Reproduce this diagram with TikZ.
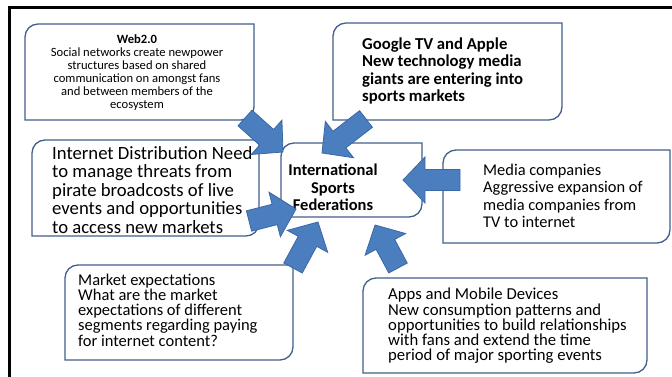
\documentclass[tikz,border=0pt]{standalone}
\usepackage{fontspec}
\setmainfont{Carlito}
\usetikzlibrary{calc,fit}

\definecolor{arrowblue}{HTML}{4A7EBF}
\definecolor{arrowedge}{HTML}{3B67A3}
\definecolor{boxedge}{HTML}{41608C}

% outline of a box, only top left and bottom right corners are rounded
\newcommand{\diagframe}[1]{%
  \draw[frameline] (#1.north east) -- (#1.north west) -- (#1.south west)
                   (#1.south west) -- (#1.south east) -- (#1.north east);}

\begin{document}
\begin{tikzpicture}[x=1pt,y=-1pt]
	\tikzstyle{boxarea}=[inner sep=0pt,outer sep=0pt]
	\tikzstyle{frameline}=[draw=boxedge,line width=1.3pt,rounded corners=13pt,line cap=rect]
	\tikzstyle{txt}=[inner sep=0pt,align=left,anchor=west,text=black]
	\tikzstyle{blockarrow}=[fill=arrowblue,draw=arrowedge,line width=0.8pt,
	  to path={let \p1=(\tikztostart),\p2=(\tikztotarget),
	    \n1={atan2(\y2-\y1,\x2-\x1)},\n2={veclen(\x2-\x1,\y2-\y1)-22} in
	    ($(\p1)+(\n1+90:10.5pt)$) -- ++(\n1:\n2) -- ++(\n1+90:12.5pt) -- (\p2)
	    -- ($(\p2)+(\n1+180:22pt)+(\n1-90:23pt)$) -- ++(\n1+90:12.5pt)
	    -- ($(\p1)+(\n1-90:10.5pt)$) -- cycle}]
	\useasboundingbox (0,0) rectangle (672,377);

	% boxes
	\node [boxarea,fit={(25,24) (254,120)}] (webbox) {};
	\node [boxarea,fit={(32,140) (259,236)}] (netbox) {};
	\node [boxarea,fit={(65,265) (293,360)}] (marketbox) {};
	\node [boxarea,fit={(333,23) (562,120)}] (googlebox) {};
	\node [boxarea,fit={(443,150) (670,243)}] (mediabox) {};
	\node [boxarea,fit={(363,278) (647,373)}] (appsbox) {};
	\node [boxarea,fit={(281,143) (422,217)}] (isfbox) {};
	\foreach \b in {webbox,netbox,marketbox,googlebox,mediabox,appsbox,isfbox}
	  \diagframe{\b};

	% texts
	\node [txt,anchor=center,align=center,font=\fontsize{12.6}{13}\selectfont] (web) at (137,73)
	  {\textbf{Web2.0}\\Social networks create newpower\\structures based on shared\\communication on amongst fans\\and between members of the\\ecosystem};
	\node [txt,font=\fontsize{18.7}{18.5}\selectfont] (net) at (52,190)
	  {Internet Distribution Need\\to manage threats from\\pirate broadcosts of live\\events and opportunities\\to access new markets};
	\node [txt,font=\fontsize{16.5}{15.2}\selectfont] (market) at (78,310)
	  {Market expectations\\What are the market\\expectations of different\\segments regarding paying\\for internet content?};
	\node [txt,font=\bfseries\fontsize{16.7}{17.3}\selectfont] (google) at (362,71)
	  {Google TV and Apple\\New technology media\\giants are entering into\\sports markets};
	\node [txt,font=\fontsize{16.4}{17.3}\selectfont] (media) at (483,196)
	  {Media companies\\Aggressive expansion of\\media companies from\\TV to internet};
	\node [txt,font=\fontsize{16.7}{15.3}\selectfont] (apps) at (388,326)
	  {Apps and Mobile Devices\\New consumption patterns and\\opportunities to build relationships\\with fans and extend the time\\period of major sporting events};
	\node [txt,anchor=center,align=center,font=\bfseries\fontsize{16.5}{17.5}\selectfont] (isf) at (333,187.5)
	  {International\\Sports\\Federations};

	% arrow ends
	\coordinate (webtail) at (245,118);    \coordinate (webtip) at (283,152);
	\coordinate (googletail) at (366,119); \coordinate (googletip) at (322,153);
	\coordinate (mediatail) at (460,180);  \coordinate (mediatip) at (403,180);
	\coordinate (nettail) at (249,221);    \coordinate (nettip) at (296,209);
	\coordinate (markettail) at (293,268); \coordinate (markettip) at (318,222);
	\coordinate (appstail) at (398,268);   \coordinate (appstip) at (375,225);

	\path (webtail) edge[blockarrow] (webtip);
	\path (googletail) edge[blockarrow] (googletip);
	\path (mediatail) edge[blockarrow] (mediatip);
	\path (nettail) edge[blockarrow] (nettip);
	\path (markettail) edge[blockarrow] (markettip);
	\path (appstail) edge[blockarrow] (appstip);

	% page border
	\draw[line width=3pt] (9,377) -- (9,8) -- (672,8);
\end{tikzpicture}
\end{document}
